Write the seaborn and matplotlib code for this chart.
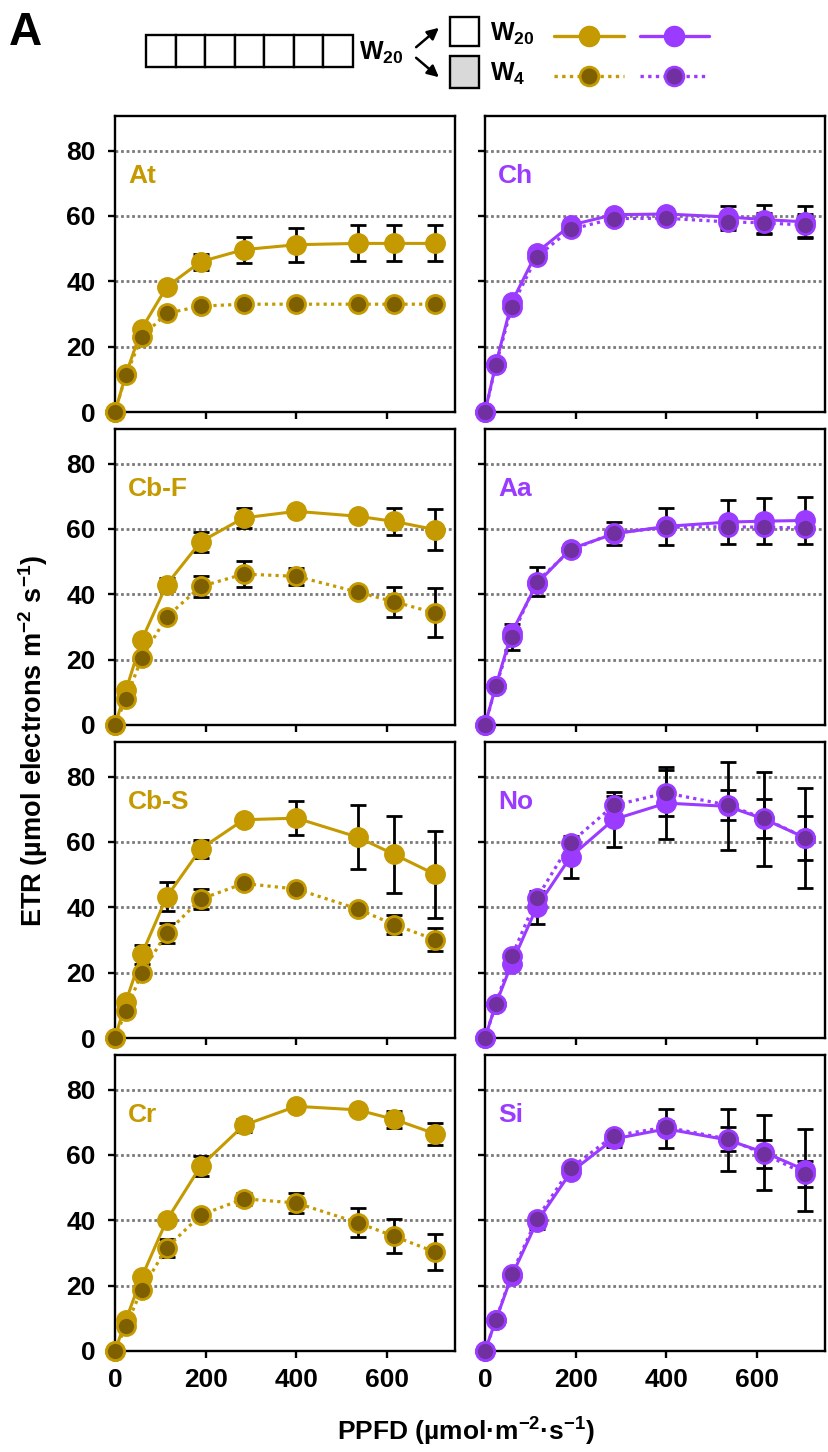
import numpy as np
import pandas as pd
import matplotlib
matplotlib.use("Agg")
import matplotlib.pyplot as plt
import seaborn as sns
from matplotlib.lines import Line2D
from matplotlib.patches import Rectangle, FancyArrowPatch

# ---------------- data ----------------
PPFD = [0, 24, 59, 114, 189, 284, 400, 535, 616, 706]
species = ["At", "Ch", "Cb-F", "Aa", "Cb-S", "No", "Cr", "Si"]
groups = ["gold", "purple", "gold", "purple", "gold", "purple", "gold", "purple"]

At_W20 = [0, 11.5, 25.5, 38.3, 46.0, 49.7, 51.2, 51.6, 51.6, 51.6]
At_W20_err = [0, 0.5, 1.0, 1.0, 2.5, 4.0, 5.2, 5.5, 5.5, 5.5]
At_W4 = [0, 11.2, 23.0, 30.2, 32.4, 33.0, 33.0, 33.0, 33.0, 33.0]
At_W4_err = [0, 0.5, 1.0, 1.0, 1.0, 1.0, 0.5, 0.5, 0.5, 0.5]

Ch_W20 = [0, 14.7, 33.6, 48.8, 57.2, 60.4, 60.6, 59.7, 58.9, 58.2]
Ch_W20_err = [0, 0.5, 1.0, 1.0, 1.0, 0.8, 1.5, 3.5, 4.5, 4.8]
Ch_W4 = [0, 14.3, 32.2, 47.5, 55.9, 59.2, 59.3, 58.2, 57.9, 57.2]
Ch_W4_err = [0, 0.5, 1.0, 1.0, 1.0, 1.0, 1.5, 2.5, 3.0, 3.5]

CbF_W20 = [0, 10.6, 26.0, 43.0, 56.1, 63.4, 65.4, 63.9, 62.3, 59.8]
CbF_W20_err = [0, 1.0, 1.5, 2.0, 3.0, 3.0, 1.5, 1.0, 4.0, 6.3]
CbF_W4 = [0, 8.0, 20.5, 33.1, 42.4, 46.2, 45.5, 40.7, 37.7, 34.3]
CbF_W4_err = [0, 1.0, 1.0, 1.0, 3.3, 4.0, 2.7, 1.0, 4.5, 7.5]

Aa_W20 = [0, 12.0, 28.3, 43.2, 53.9, 58.5, 60.8, 62.1, 62.4, 62.6]
Aa_W20_err = [0, 1.0, 1.5, 1.5, 1.0, 3.5, 5.6, 6.8, 7.1, 7.1]
Aa_W4 = [0, 11.8, 27.0, 43.9, 53.5, 58.8, 60.5, 60.7, 60.5, 60.3]
Aa_W4_err = [0, 1.0, 4.0, 4.5, 1.0, 1.0, 1.0, 1.5, 1.5, 1.5]

CbS_W20 = [0, 11.1, 25.6, 43.2, 57.9, 66.8, 67.3, 61.5, 56.2, 50.1]
CbS_W20_err = [0, 1.0, 3.0, 4.4, 2.8, 1.0, 5.2, 9.9, 11.7, 13.3]
CbS_W4 = [0, 8.3, 19.9, 32.2, 42.5, 47.3, 45.6, 39.5, 34.7, 30.1]
CbS_W4_err = [0, 1.0, 1.5, 3.1, 3.0, 1.5, 1.0, 1.5, 3.0, 3.6]

No_W20 = [0, 10.4, 22.8, 40.0, 55.5, 66.9, 71.9, 70.9, 67.0, 61.3]
No_W20_err = [0, 0.8, 1.2, 5.0, 6.4, 8.4, 11.0, 13.5, 14.5, 15.3]
No_W4 = [0, 10.4, 25.0, 42.7, 59.8, 71.2, 75.0, 71.3, 67.2, 61.3]
No_W4_err = [0, 0.8, 1.0, 1.5, 1.5, 3.0, 7.0, 4.7, 5.9, 6.7]

Cr_W20 = [0, 9.5, 22.6, 40.0, 56.6, 69.1, 74.9, 73.8, 70.9, 66.5]
Cr_W20_err = [0, 1.0, 1.0, 1.5, 3.0, 2.0, 1.0, 1.0, 2.5, 3.4]
Cr_W4 = [0, 7.6, 18.8, 31.6, 41.6, 46.6, 45.3, 39.3, 35.1, 30.3]
Cr_W4_err = [0, 1.0, 1.0, 2.8, 1.0, 1.8, 3.2, 4.4, 5.2, 5.5]

Si_W20 = [0, 9.5, 23.0, 39.4, 54.7, 64.9, 68.0, 64.6, 60.8, 55.4]
Si_W20_err = [0, 0.8, 1.5, 2.0, 1.0, 2.5, 6.0, 9.5, 11.5, 12.7]
Si_W4 = [0, 9.4, 23.7, 40.4, 56.0, 65.9, 68.5, 64.9, 60.3, 54.2]
Si_W4_err = [0, 0.8, 1.0, 1.5, 1.0, 1.5, 2.0, 3.6, 4.3, 4.0]

series = {
    "At": (At_W20, At_W20_err, At_W4, At_W4_err),
    "Ch": (Ch_W20, Ch_W20_err, Ch_W4, Ch_W4_err),
    "Cb-F": (CbF_W20, CbF_W20_err, CbF_W4, CbF_W4_err),
    "Aa": (Aa_W20, Aa_W20_err, Aa_W4, Aa_W4_err),
    "Cb-S": (CbS_W20, CbS_W20_err, CbS_W4, CbS_W4_err),
    "No": (No_W20, No_W20_err, No_W4, No_W4_err),
    "Cr": (Cr_W20, Cr_W20_err, Cr_W4, Cr_W4_err),
    "Si": (Si_W20, Si_W20_err, Si_W4, Si_W4_err),
}

rows = []
for sp in species:
    w20, e20, w4, e4 = series[sp]
    for i, x in enumerate(PPFD):
        rows.append(dict(species=sp, treat="W20", PPFD=x, ETR=w20[i], SE=e20[i]))
        rows.append(dict(species=sp, treat="W4", PPFD=x, ETR=w4[i], SE=e4[i]))
df = pd.DataFrame(rows)

# ---------------- style ----------------
sns.set_style("ticks")
plt.rcParams["font.family"] = ["Liberation Sans", "DejaVu Sans"]
plt.rcParams["font.weight"] = "bold"
plt.rcParams["text.color"] = "black"
plt.rcParams["axes.labelcolor"] = "black"
plt.rcParams["xtick.color"] = "black"
plt.rcParams["ytick.color"] = "black"
plt.rcParams["mathtext.fontset"] = "custom"
plt.rcParams["mathtext.rm"] = "Liberation Sans:bold"
plt.rcParams["mathtext.bf"] = "Liberation Sans:bold"
plt.rcParams["mathtext.default"] = "bf"

colors = {
    "gold": dict(line="#C49A00", face4="#7F6000"),
    "purple": dict(line="#9B3BFF", face4="#7030A0"),
}

W, H = 829, 1452
fig = plt.figure(figsize=(W / 100, H / 100), dpi=100)


def fx(px):
    return px / W


def fy(py):
    return 1 - py / H


col_x = [115, 485]
row_top = [116, 429, 742, 1055]
pw, ph = 340, 296

for k, sp in enumerate(species):
    r, c = divmod(k, 2)
    ax = fig.add_axes([fx(col_x[c]), fy(row_top[r] + ph), pw / W, ph / H])
    grp = colors[groups[k]]
    d20 = df[(df.species == sp) & (df.treat == "W20")]
    d4 = df[(df.species == sp) & (df.treat == "W4")]

    ax.set_xlim(0, 750)
    ax.set_ylim(0, 90.6)
    ax.set_yticks([0, 20, 40, 60, 80])
    ax.set_xticks([0, 200, 400, 600])
    for yv in [20, 40, 60, 80]:
        ax.axhline(yv, color="#7A7A7A", lw=2.0, linestyle=(0, (1, 1.0)), zorder=1)

    for d in (d20, d4):
        ax.errorbar(d.PPFD, d.ETR, yerr=d.SE, fmt="none", ecolor="black",
                    elinewidth=2.0, capsize=6, capthick=2.0, zorder=3, clip_on=False)

    sns.lineplot(data=d20, x="PPFD", y="ETR", ax=ax, color=grp["line"],
                 estimator=None, sort=False, legend=False, lw=2.2,
                 linestyle="-", marker="o", markersize=14,
                 markerfacecolor=grp["line"], markeredgecolor=grp["line"],
                 markeredgewidth=1.0, clip_on=False, zorder=4)
    sns.lineplot(data=d4, x="PPFD", y="ETR", ax=ax, color=grp["line"],
                 estimator=None, sort=False, legend=False, lw=2.3,
                 linestyle=(0, (1, 1.3)), marker="o", markersize=13,
                 markerfacecolor=grp["face4"], markeredgecolor=grp["line"],
                 markeredgewidth=2.0, clip_on=False, zorder=5)

    ax.text(0.038, 0.775, sp, transform=ax.transAxes, color=grp["line"],
            fontsize=19, fontweight="bold", ha="left", va="baseline")

    for s in ax.spines.values():
        s.set_visible(True)
        s.set_linewidth(1.7)
        s.set_color("black")
    ax.tick_params(axis="both", direction="out", length=5, width=1.7,
                   colors="black", labelsize=19)
    ax.tick_params(axis="y", pad=9)
    ax.tick_params(axis="x", pad=7)
    ax.set_xlabel("")
    ax.set_ylabel("")
    if c == 1:
        ax.set_yticklabels([])
    if r < 3:
        ax.set_xticklabels([])
    for lab in ax.get_xticklabels() + ax.get_yticklabels():
        lab.set_fontweight("bold")

# axis labels
fig.text(fx(33), fy(741), r"ETR (µmol electrons m$^{-2}$ s$^{-1}$)", rotation=90,
         ha="center", va="center", fontsize=19.5, fontweight="bold")
fig.text(fx(466), fy(1432), r"PPFD (µmol·m$^{-2}$·s$^{-1}$)",
         ha="center", va="center", fontsize=19, fontweight="bold")

# panel letter
fig.text(fx(9), fy(45), "A", fontsize=33, fontweight="bold", ha="left", va="baseline")

# ---------------- schematic legend ----------------
bw = (353 - 146) / 7
for i in range(7):
    fig.add_artist(Rectangle((fx(146 + i * bw), fy(67)), bw / W, 32 / H,
                             transform=fig.transFigure, facecolor="white",
                             edgecolor="black", lw=1.7))
fig.text(fx(359), fy(60), r"W$_{20}$", fontsize=18, ha="left", va="baseline")
fig.add_artist(FancyArrowPatch((fx(414), fy(49)), (fx(441), fy(26)),
                               transform=fig.transFigure, arrowstyle="-|>",
                               mutation_scale=17, lw=1.8, color="black"))
fig.add_artist(FancyArrowPatch((fx(414), fy(56)), (fx(441), fy(79)),
                               transform=fig.transFigure, arrowstyle="-|>",
                               mutation_scale=17, lw=1.8, color="black"))
fig.add_artist(Rectangle((fx(450), fy(46)), 29 / W, 29 / H, transform=fig.transFigure,
                         facecolor="white", edgecolor="black", lw=1.7))
fig.add_artist(Rectangle((fx(450), fy(88)), 29 / W, 32 / H, transform=fig.transFigure,
                         facecolor="#D9D9D9", edgecolor="black", lw=1.7))
fig.text(fx(490), fy(41), r"W$_{20}$", fontsize=18, ha="left", va="baseline")
fig.text(fx(490), fy(81), r"W$_{4}$", fontsize=18, ha="left", va="baseline")

for (x0, x1, grp) in [(554, 624, "gold"), (640, 709, "purple")]:
    cc = colors[grp]
    fig.add_artist(Line2D([fx(x0), fx(x1)], [fy(36), fy(36)], transform=fig.transFigure,
                          color=cc["line"], lw=2.4))
    fig.add_artist(Line2D([fx((x0 + x1) / 2)], [fy(36)], transform=fig.transFigure,
                          marker="o", ms=14.5, color=cc["line"], mfc=cc["line"],
                          mec=cc["line"], lw=0))
    fig.add_artist(Line2D([fx(x0), fx(x1)], [fy(76), fy(76)], transform=fig.transFigure,
                          color=cc["line"], lw=2.4, linestyle=(0, (1, 1.3))))
    fig.add_artist(Line2D([fx((x0 + x1) / 2)], [fy(76)], transform=fig.transFigure,
                          marker="o", ms=13.5, color=cc["line"], mfc=cc["face4"],
                          mec=cc["line"], mew=2.0, lw=0))

fig.savefig("out.png", dpi=100)
